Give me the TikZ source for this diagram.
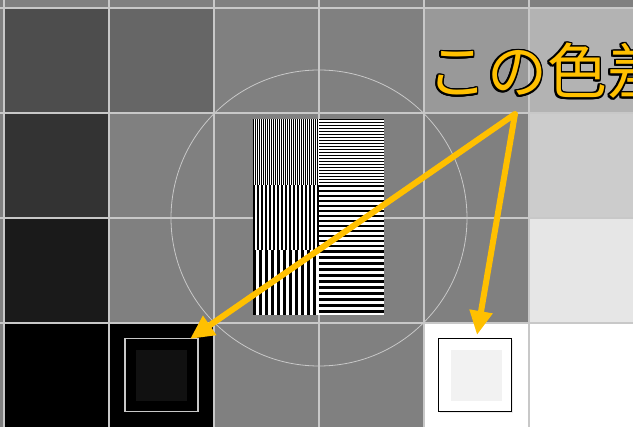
\documentclass[tikz,border=0pt]{standalone}
\usepackage{fontspec}
\newfontfamily\jpfont{Noto Sans CJK JP}
\usetikzlibrary{arrows.meta,shadows}
\definecolor{arrowyellow}{RGB}{255,192,0}
\definecolor{gridline}{RGB}{200,200,200}
\definecolor{midgray}{RGB}{128,128,128}
\definecolor{g4D}{RGB}{77,77,77}
\definecolor{g33}{RGB}{51,51,51}
\definecolor{g1A}{RGB}{26,26,26}
\definecolor{g66}{RGB}{102,102,102}
\definecolor{g99}{RGB}{153,153,153}
\definecolor{gB3}{RGB}{179,179,179}
\definecolor{gCC}{RGB}{204,204,204}
\definecolor{gE6}{RGB}{230,230,230}
\definecolor{g11}{RGB}{17,17,17}
\definecolor{gF2}{RGB}{242,242,242}
\tikzset{
  gridln/.style={draw=gridline, line width=2pt},
  yarrow/.style={draw=arrowyellow, line width=6pt, -{Triangle[length=24pt,width=22pt]}},
  jptext/.style={anchor=base west, inner sep=0pt, font=\jpfont\fontsize{60}{60}\selectfont},
}
\begin{document}
\begin{tikzpicture}[x=1pt,y=-1pt]
\useasboundingbox (0,0) rectangle (633,427);
\fill[midgray] (0,0) rectangle (633,427);
% cells
\fill[g4D] (4,8) rectangle (109,113);
\fill[g33] (4,113) rectangle (109,218);
\fill[g1A] (4,218) rectangle (109,323);
\fill[black] (4,323) rectangle (109,428);
\fill[g66] (109,8) rectangle (214,113);
\fill[g99] (424,8) rectangle (529,113);
\fill[gB3] (529,8) rectangle (634,113);
\fill[gCC] (529,113) rectangle (634,218);
\fill[gE6] (529,218) rectangle (634,323);
\fill[white] (529,323) rectangle (634,428);
\fill[black] (109,323) rectangle (214,428);
\fill[white] (424,323) rectangle (529,428);
% grid lines
\foreach \x in {4,109,214,319,424,529} \draw[gridln] (\x,0) -- (\x,427);
\foreach \y in {8,113,218,323} \draw[gridln] (0,\y) -- (633,\y);
% circle
\draw[gridline, line width=0.8pt] (319,218) circle (148pt);
% stripe pattern
\fill[white] (253,119) rectangle (384,315);
\foreach \i in {0,...,32} \fill[black] ({253+2*\i},119) rectangle ++(1,66);
\foreach \i in {0,...,16} \fill[black] ({253+4*\i},185) rectangle ++(2,65);
\foreach \i in {0,...,10} \fill[black] ({253+6*\i},250) rectangle ++(3,65);
\foreach \i in {0,...,21} \fill[black] (319,{119+3*\i}) rectangle ++(65,1.5);
\foreach \i in {0,...,12} \fill[black] (319,{185+5*\i}) rectangle ++(65,2.5);
\foreach \i in {0,...,10} \fill[black] (319,{250+6*\i}) rectangle ++(65,3);
% boxes
\node[draw=gridline, line width=1.5pt, fill=black, minimum size=73pt, inner sep=0pt] (lbox) at (161.5,375) {};
\node[fill=g11, minimum size=51pt, inner sep=0pt] (linner) at (161.5,375.5) {};
\node[draw=black, line width=1.5pt, fill=white, minimum size=73pt, inner sep=0pt,
  drop shadow={shadow xshift=1pt, shadow yshift=-1.5pt, opacity=0.15}] (rbox) at (475,375) {};
\node[fill=gF2, minimum size=51pt, inner sep=0pt] (rinner) at (476.5,375.5) {};
% arrows
\coordinate (apex) at (515,114);
\coordinate (tipL) at (190,339);
\coordinate (tipR) at (477,335);
\draw[yarrow, line cap=round] (apex) -- (tipL);
\draw[yarrow] (apex) -- (tipR);
% title text with outline
\foreach \a [count=\i] in {0,22.5,...,337.5}
  \node[jptext, text=black, shift={(\a:1.7pt)}] (tout\i) at (427,94) {この色差};
\node[jptext, text=arrowyellow] (title) at (427,94) {この色差};
\end{tikzpicture}
\end{document}
